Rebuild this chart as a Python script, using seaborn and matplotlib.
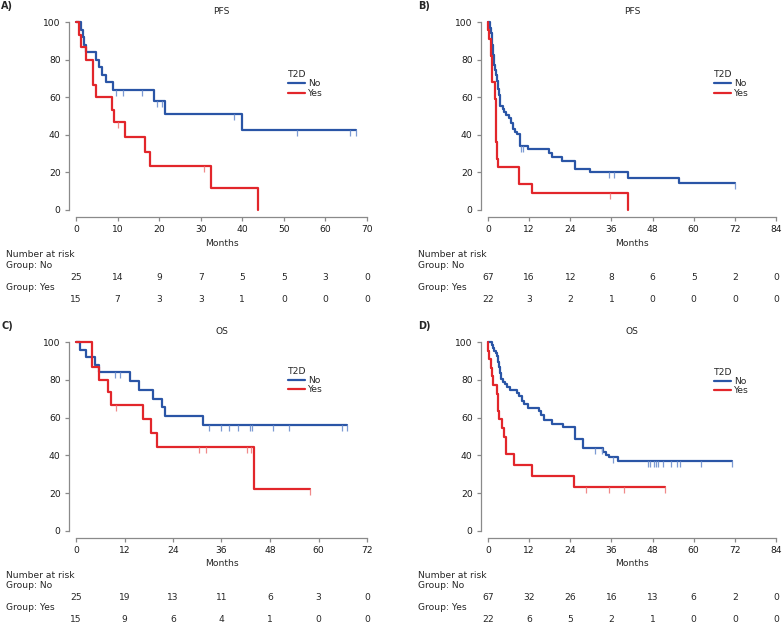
import numpy as np
import pandas as pd
import matplotlib
matplotlib.use('Agg')
import matplotlib.pyplot as plt
import matplotlib.transforms as mtransforms
import seaborn as sns

sns.set_style('ticks')
plt.rcParams['font.family'] = ['DejaVu Sans']
plt.rcParams['font.size'] = 6.6

BLUE = '#2a55a6'
RED = '#e2262b'
BLUE_C = '#7d9bd3'
RED_C = '#f08a8a'
GREY = '#8a8a8a'
W, H = 784, 623

# ---- A) PFS ----
a_no_t = [0, 1.2, 1.6, 2.0, 2.4, 4.8, 5.6, 6.3, 7.2, 9.0, 18.8, 21.4, 39.9, 67.3]
a_no_s = [100, 96, 92, 88, 84, 80, 76, 72, 68, 64, 58.2, 50.9, 42.4, 42.4]
a_no_c = [9.6, 11.4, 15.8, 19.4, 20.8, 38.1, 53.1, 66.0, 67.3]
a_yes_t = [0, 0.8, 1.2, 2.4, 4.0, 4.8, 8.7, 9.1, 11.8, 16.6, 17.8, 32.4, 43.7]
a_yes_s = [100, 93.3, 86.7, 80, 66.7, 60, 53.3, 46.7, 38.9, 31.1, 23.3, 11.7, 0]
a_yes_c = [10.2, 30.7]
a_risk_no = [25, 14, 9, 7, 5, 5, 3, 0]
a_risk_yes = [15, 7, 3, 3, 1, 0, 0, 0]

# ---- B) PFS ----
b_no_t = [0, 0.5, 0.9, 1.2, 1.45, 1.7, 1.9, 2.2, 2.6, 2.9, 3.2, 3.5, 4.3, 4.8, 5.3,
          6.0, 6.7, 7.2, 8.0, 8.6, 9.2, 11.8, 17.8, 18.8, 21.5, 25.5, 29.8, 40.9, 55.6, 71.9]
b_no_s = [100, 97, 94, 88, 82.5, 77, 74.6, 71.6, 68.7, 64.2, 61.2, 55.2, 53.7, 52.2, 50.7,
          49.2, 46.2, 43.2, 41.7, 40.2, 34.3, 32.4, 30.3, 28.3, 26, 21.7, 20, 17, 14.3, 14.3]
b_no_c = [9.7, 10.3, 35.4, 36.7, 71.9]
b_yes_t = [0, 0.05, 0.3, 1.0, 1.25, 1.9, 2.2, 2.4, 2.7, 3.0, 8.95, 12.8, 40.9]
b_yes_s = [100, 95.5, 90.9, 81.8, 68.2, 59.1, 54.5, 36.4, 27.3, 22.7, 13.6, 9.1, 0]
b_yes_c = [35.6]
b_risk_no = [67, 16, 12, 8, 6, 5, 2, 0]
b_risk_yes = [22, 3, 2, 1, 0, 0, 0, 0]

# ---- C) OS ----
c_no_t = [0, 1.0, 2.5, 4.7, 5.8, 13.4, 15.7, 19.1, 21.2, 21.9, 31.3, 67.0]
c_no_s = [100, 96, 92, 88, 84, 79.5, 74.8, 70, 65.4, 60.6, 56, 56]
c_no_c = [9.6, 11.0, 33.0, 35.9, 37.9, 40.2, 43.1, 43.5, 48.7, 52.7, 65.9, 67.0]
c_yes_t = [0, 3.9, 5.8, 8.0, 8.6, 16.5, 18.5, 20.1, 44.1, 57.9]
c_yes_s = [100, 86.7, 80, 73.3, 66.7, 59.3, 51.9, 44.4, 22.2, 22.2]
c_yes_c = [9.9, 30.5, 32.1, 42.2, 43.2, 57.9]
c_risk_no = [25, 19, 13, 11, 6, 3, 0]
c_risk_yes = [15, 9, 6, 4, 1, 0, 0]

# ---- D) OS ----
d_no_t = [0, 1.05, 1.4, 1.7, 2.3, 2.7, 3.0, 3.25, 3.6, 3.9, 4.4, 4.9, 5.5, 6.3, 8.4, 9.0,
          9.9, 10.6, 11.8, 14.9, 15.4, 16.3, 18.7, 22.0, 25.4, 27.8, 33.5, 34.4, 35.2, 37.8, 71.2]
d_no_s = [100, 98.5, 97, 95.5, 94, 92.5, 89.6, 86.6, 83.6, 80.6, 79.1, 77.6, 76.1, 74.6, 73.1, 71.6,
          68.7, 67.2, 64.9, 63.4, 61.5, 58.8, 56.5, 55, 48.5, 44, 42, 40, 39, 37, 37]
d_no_c = [31.1, 33.2, 36.4, 46.6, 47.3, 48.3, 49.0, 49.7, 51.1, 53.5, 55.2, 55.9, 62.1, 71.2]
d_yes_t = [0, 0.1, 0.4, 0.8, 1.2, 1.35, 2.5, 2.8, 3.3, 4.2, 4.6, 5.15, 7.6, 12.7, 25.2, 51.6]
d_yes_s = [100, 95.5, 90.9, 86.4, 81.8, 77.3, 72.7, 63.6, 59.1, 54.5, 50, 40.9, 35.1, 29.2, 23.4, 23.4]
d_yes_c = [28.7, 35.4, 39.7, 51.6]
d_risk_no = [67, 32, 26, 16, 13, 6, 2, 0]
d_risk_yes = [22, 6, 5, 2, 1, 0, 0, 0]


def fy(px):
    return 1 - px / H


def surv_at(times, surv, c):
    idx = np.searchsorted(times, c, side='right') - 1
    return np.asarray(surv)[idx]


def draw_panel(fig, rect, label, label_x, title, no, yes, xmax, xstep,
               risk_no, risk_yes, top, table_x, leg_xy):
    ax = fig.add_axes(rect)
    df = pd.concat([
        pd.DataFrame({'Months': no[0], 'Surv': no[1], 'T2D': 'No'}),
        pd.DataFrame({'Months': yes[0], 'Surv': yes[1], 'T2D': 'Yes'}),
    ], ignore_index=True)
    sns.lineplot(data=df, x='Months', y='Surv', hue='T2D', hue_order=['No', 'Yes'],
                 palette={'No': BLUE, 'Yes': RED}, drawstyle='steps-post',
                 estimator=None, linewidth=1.6, ax=ax)
    # censor marks hang below the curve
    for (t, s, c), col in [(no, BLUE_C), (yes, RED_C)]:
        ax.plot(c, surv_at(t, s, c), ls='none', marker=3, markersize=4.5,
                markeredgewidth=0.9, color=col, clip_on=False)
    for ln in ax.lines:
        ln.set_clip_on(False)

    ax.set_xlim(0, xmax)
    ax.set_ylim(0, 100)
    ticks = np.arange(0, xmax + 1, xstep)
    ax.set_xticks(ticks)
    ax.set_yticks(np.arange(0, 101, 20))
    ax.set_xlabel('')
    ax.set_ylabel('')
    sns.despine(ax=ax)
    for side in ['left', 'bottom']:
        ax.spines[side].set_position(('outward', 5))
        ax.spines[side].set_color(GREY)
        ax.spines[side].set_linewidth(0.9)
    ax.tick_params(length=3, width=0.9, color=GREY, pad=3, labelsize=6.6, labelcolor='#1a1a1a')

    leg = ax.legend(title='T2D', loc='upper left', bbox_to_anchor=leg_xy, frameon=False,
                    borderaxespad=0, borderpad=0, handlelength=1.8, handletextpad=0.35,
                    labelspacing=0.05, fontsize=6.6, title_fontsize=6.6)
    leg._legend_box.align = 'left'

    tr = mtransforms.blended_transform_factory(ax.transData, fig.transFigure)
    ax.text(xmax / 2, fy(top - 11), title, transform=tr, ha='center', va='center')
    fig.text(label_x / W, fy(top - 16), label, fontweight='bold', fontsize=7, va='center')
    ax.text(xmax / 2, fy(top + 221), 'Months', transform=tr, ha='center', va='center')
    fig.text(table_x / W, fy(top + 233), 'Number at risk', va='center')
    fig.text(table_x / W, fy(top + 244), 'Group: No', va='center')
    fig.text(table_x / W, fy(top + 266), 'Group: Yes', va='center')
    for x, n in zip(ticks, risk_no):
        ax.text(x, fy(top + 255), str(n), transform=tr, ha='center', va='center')
    for x, n in zip(ticks, risk_yes):
        ax.text(x, fy(top + 277), str(n), transform=tr, ha='center', va='center')
    return ax


fig = plt.figure(figsize=(W / 100, H / 100), dpi=100)

draw_panel(fig, [76 / W, fy(210), 291 / W, 188 / H], 'A)', 1, 'PFS',
           (a_no_t, a_no_s, a_no_c), (a_yes_t, a_yes_s, a_yes_c), 70, 10,
           a_risk_no, a_risk_yes, 22, 6, (0.73, 0.745))
draw_panel(fig, [488 / W, fy(210), 288 / W, 188 / H], 'B)', 418, 'PFS',
           (b_no_t, b_no_s, b_no_c), (b_yes_t, b_yes_s, b_yes_c), 84, 12,
           b_risk_no, b_risk_yes, 22, 418, (0.785, 0.745))
draw_panel(fig, [76 / W, fy(531), 291 / W, 189 / H], 'C)', 1, 'OS',
           (c_no_t, c_no_s, c_no_c), (c_yes_t, c_yes_s, c_yes_c), 72, 12,
           c_risk_no, c_risk_yes, 342, 6, (0.73, 0.87))
draw_panel(fig, [488 / W, fy(531), 288 / W, 189 / H], 'D)', 418, 'OS',
           (d_no_t, d_no_s, d_no_c), (d_yes_t, d_yes_s, d_yes_c), 84, 12,
           d_risk_no, d_risk_yes, 342, 418, (0.785, 0.865))

fig.savefig('out.png', dpi=100)
